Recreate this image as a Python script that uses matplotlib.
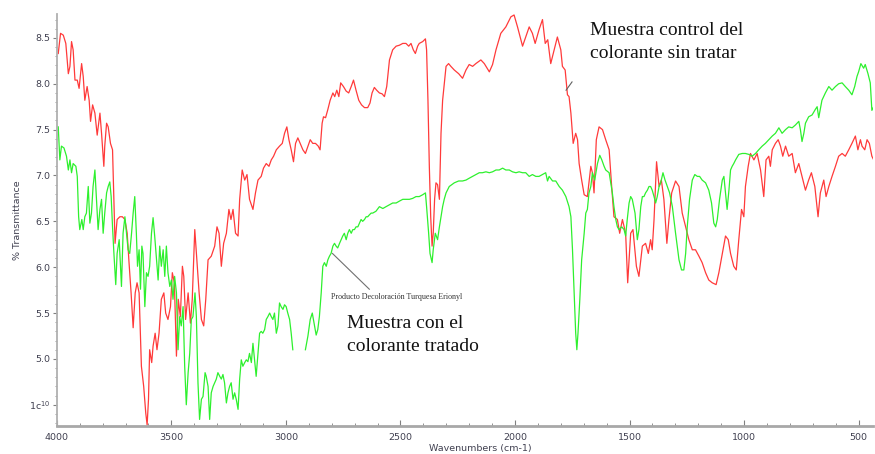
import numpy as np
import matplotlib
matplotlib.use("Agg")
import matplotlib.pyplot as plt
from matplotlib.ticker import MultipleLocator, FixedLocator, FixedFormatter

# control sample (red) : wavenumber, % transmittance
red_wn = [3994, 3984, 3972, 3961, 3950, 3943, 3936, 3929, 3921, 3911, 3903, 3892, 3885, 3878, 3868, 3859,
          3853, 3844, 3834, 3824, 3812, 3805, 3795, 3791, 3783, 3776, 3766, 3757, 3751, 3746, 3737, 3725,
          3714, 3703, 3693, 3685, 3676, 3667, 3658, 3650, 3641, 3631, 3621, 3612, 3606, 3600, 3595, 3586,
          3580, 3571, 3563, 3554, 3544, 3533, 3525, 3515, 3504, 3496, 3487, 3478, 3470, 3461, 3452, 3446,
          3438, 3427, 3417, 3409, 3398, 3391, 3379, 3369, 3359, 3350, 3340, 3326, 3311, 3301, 3292, 3282,
          3272, 3260, 3249, 3240, 3231, 3220, 3209, 3202, 3191, 3180, 3170, 3159, 3144, 3133, 3122, 3108,
          3098, 3086, 3074, 3064, 3054, 3042, 3028, 3016, 3006, 2996, 2987, 2977, 2967, 2958, 2948, 2938,
          2926, 2915, 2904, 2894, 2883, 2871, 2859, 2851, 2842, 2836, 2827, 2817, 2807, 2795, 2787, 2778,
          2769, 2761, 2749, 2737, 2726, 2715, 2705, 2694, 2682, 2670, 2657, 2643, 2633, 2624, 2614, 2604,
          2592, 2580, 2570, 2560, 2548, 2534, 2519, 2505, 2490, 2476, 2464, 2454, 2444, 2435, 2425, 2418,
          2403, 2391, 2386, 2380, 2374, 2368, 2362, 2357, 2351, 2345, 2338, 2330, 2323, 2316, 2301, 2290,
          2280, 2265, 2246, 2229, 2214, 2200, 2185, 2171, 2149, 2134, 2112, 2098, 2083, 2062, 2040, 2018,
          2004, 1989, 1967, 1953, 1938, 1924, 1912, 1895, 1880, 1868, 1857, 1844, 1829, 1815, 1800, 1793,
          1781, 1771, 1764, 1756, 1746, 1735, 1727, 1720, 1709, 1698, 1684, 1669, 1662, 1655, 1645, 1633,
          1618, 1604, 1589, 1578, 1568, 1553, 1543, 1531, 1517, 1508, 1495, 1485, 1470, 1459, 1444, 1430,
          1418, 1408, 1401, 1393, 1382, 1371, 1361, 1350, 1337, 1328, 1316, 1299, 1284, 1270, 1255, 1241,
          1226, 1212, 1197, 1183, 1168, 1154, 1139, 1122, 1110, 1095, 1081, 1069, 1059, 1045, 1034, 1023,
          1011, 1001, 994, 982, 972, 957, 943, 928, 914, 904, 892, 885, 877, 863, 851, 841,
          831, 819, 805, 790, 776, 761, 747, 732, 718, 706, 691, 677, 667, 652, 642, 630,
          616, 601, 587, 572, 558, 543, 529, 514, 503, 492, 485, 473, 463, 453, 442, 434]
red_t = [8.33, 8.55, 8.53, 8.44, 8.11, 8.19, 8.46, 8.37, 8.04, 8.04, 7.95, 8.22, 8.08, 7.82, 7.97, 7.82,
         7.59, 7.77, 7.68, 7.44, 7.68, 7.46, 7.10, 7.32, 7.57, 7.53, 7.35, 7.28, 6.74, 6.26, 6.52, 6.55,
         6.55, 6.52, 6.37, 6.05, 5.72, 5.34, 5.72, 5.83, 5.72, 4.92, 4.70, 4.41, 4.28, 4.56, 5.10, 4.96,
         5.14, 5.28, 5.10, 5.28, 5.65, 5.72, 5.50, 5.43, 5.57, 5.94, 5.83, 5.03, 5.65, 5.46, 6.01, 5.90,
         5.43, 5.72, 5.39, 5.65, 6.41, 6.15, 5.72, 5.43, 5.36, 5.65, 6.08, 6.12, 6.23, 6.44, 6.37, 6.01,
         6.26, 6.37, 6.63, 6.52, 6.63, 6.37, 6.34, 6.74, 7.06, 6.95, 7.01, 6.74, 6.63, 6.81, 6.95, 6.99,
         7.08, 7.13, 7.10, 7.17, 7.21, 7.28, 7.32, 7.35, 7.46, 7.53, 7.39, 7.28, 7.15, 7.35, 7.41, 7.35,
         7.28, 7.24, 7.32, 7.39, 7.35, 7.35, 7.32, 7.28, 7.57, 7.64, 7.63, 7.72, 7.82, 7.90, 7.86, 7.93,
         7.86, 8.01, 7.97, 7.92, 7.90, 7.97, 8.04, 7.93, 7.82, 7.77, 7.74, 7.74, 7.79, 7.90, 7.96, 7.93,
         7.90, 7.89, 7.86, 7.97, 8.26, 8.37, 8.41, 8.42, 8.44, 8.44, 8.41, 8.44, 8.37, 8.33, 8.41, 8.44,
         8.46, 8.49, 8.37, 7.82, 7.10, 6.55, 6.23, 6.37, 6.74, 6.92, 6.90, 6.74, 7.46, 7.82, 8.19, 8.22,
         8.19, 8.15, 8.11, 8.06, 8.15, 8.21, 8.19, 8.22, 8.26, 8.22, 8.13, 8.21, 8.37, 8.55, 8.62, 8.73,
         8.75, 8.62, 8.41, 8.51, 8.62, 8.55, 8.44, 8.59, 8.70, 8.44, 8.48, 8.22, 8.37, 8.51, 8.37, 8.19,
         8.15, 7.88, 7.86, 7.68, 7.35, 7.46, 7.39, 7.13, 6.95, 6.79, 6.77, 7.10, 7.03, 6.81, 7.39, 7.53,
         7.50, 7.39, 7.28, 6.88, 6.55, 6.52, 6.37, 6.52, 6.37, 5.83, 6.37, 6.41, 6.01, 5.90, 6.23, 6.26,
         6.15, 6.30, 6.19, 6.52, 7.15, 6.88, 6.95, 6.74, 6.26, 6.52, 6.81, 6.94, 6.88, 6.59, 6.44, 6.30,
         6.19, 6.19, 6.12, 6.05, 5.94, 5.86, 5.83, 5.81, 5.94, 6.15, 6.34, 6.30, 6.15, 6.01, 5.97, 6.30,
         6.63, 6.55, 6.88, 7.10, 7.24, 7.17, 7.24, 7.06, 6.77, 7.17, 7.21, 7.10, 7.28, 7.35, 7.39, 7.32,
         7.21, 7.32, 7.21, 7.24, 7.03, 7.13, 6.99, 6.84, 6.95, 7.03, 6.88, 6.55, 6.81, 6.95, 6.77, 6.88,
         6.99, 7.10, 7.21, 7.24, 7.21, 7.28, 7.35, 7.43, 7.28, 7.39, 7.32, 7.28, 7.39, 7.35, 7.21, 7.17]

# treated sample (green), nan = gap in the trace
green_wn = [3994, 3990, 3987, 3980, 3969, 3958, 3950, 3943, 3936, 3929, 3917, 3911, 3905, 3900, 3891, 3885,
            3878, 3871, 3863, 3856, 3849, 3842, 3834, 3827, 3820, 3812, 3805, 3798, 3791, 3783, 3776, 3769,
            3763, 3757, 3751, 3743, 3737, 3728, 3718, 3711, 3703, 3696, 3689, 3682, 3674, 3667, 3660, 3653,
            3648, 3641, 3635, 3629, 3624, 3616, 3609, 3602, 3595, 3587, 3580, 3573, 3565, 3558, 3551, 3544,
            3536, 3529, 3522, 3515, 3507, 3500, 3493, 3486, 3478, 3471, 3464, 3457, 3449, 3442, 3435, 3427,
            3420, 3413, 3406, 3397, 3391, 3384, 3377, 3369, 3362, 3353, 3348, 3340, 3333, 3326, 3318, 3311,
            3304, 3297, 3289, 3282, 3275, 3268, 3260, 3253, 3246, 3239, 3231, 3224, 3217, 3209, 3202, 3195,
            3188, 3180, 3173, 3166, 3159, 3151, 3144, 3137, 3130, 3122, 3115, 3108, 3101, 3093, 3086, 3079,
            3071, 3064, 3057, 3050, 3042, 3035, 3028, 3021, 3013, 3006, 2999, 2992, 2984, 2977, 2970, 2942,
            2915, 2904, 2894, 2885, 2875, 2868, 2861, 2854, 2846, 2839, 2832, 2824, 2817, 2810, 2803, 2795,
            2788, 2781, 2774, 2766, 2759, 2752, 2745, 2737, 2730, 2723, 2715, 2708, 2701, 2694, 2686, 2679,
            2672, 2665, 2657, 2650, 2643, 2636, 2628, 2621, 2607, 2592, 2577, 2563, 2548, 2534, 2519, 2505,
            2490, 2476, 2461, 2447, 2432, 2418, 2403, 2391, 2386, 2377, 2371, 2362, 2357, 2348, 2338, 2330,
            2323, 2316, 2309, 2301, 2287, 2265, 2246, 2229, 2214, 2200, 2185, 2171, 2156, 2142, 2127, 2112,
            2098, 2083, 2069, 2054, 2040, 2025, 2011, 1996, 1982, 1967, 1953, 1938, 1924, 1909, 1895, 1880,
            1866, 1858, 1851, 1836, 1822, 1807, 1793, 1778, 1764, 1756, 1749, 1742, 1735, 1730, 1725, 1717,
            1709, 1698, 1691, 1684, 1677, 1669, 1662, 1652, 1640, 1630, 1621, 1611, 1604, 1589, 1582, 1575,
            1568, 1560, 1553, 1546, 1534, 1524, 1517, 1510, 1502, 1495, 1488, 1476, 1466, 1459, 1451, 1444,
            1437, 1430, 1422, 1415, 1408, 1401, 1393, 1386, 1379, 1371, 1364, 1354, 1345, 1335, 1325, 1313,
            1299, 1284, 1273, 1263, 1255, 1248, 1238, 1226, 1215, 1204, 1194, 1183, 1168, 1154, 1142, 1132,
            1124, 1117, 1107, 1095, 1088, 1081, 1074, 1066, 1059, 1052, 1045, 1037, 1023, 1008, 994, 979,
            965, 950, 936, 921, 907, 892, 877, 863, 848, 834, 819, 805, 790, 776, 761, 754,
            747, 739, 732, 718, 703, 689, 681, 674, 660, 645, 630, 616, 601, 587, 572, 558,
            543, 529, 517, 507, 500, 490, 478, 471, 459, 449, 442, 434]
green_t = [7.53, 7.32, 7.17, 7.32, 7.30, 7.21, 7.06, 7.17, 7.03, 7.13, 7.10, 6.99, 6.55, 6.41, 6.52, 6.41,
           6.55, 6.59, 6.88, 6.48, 6.59, 6.88, 7.06, 6.74, 6.41, 6.63, 6.74, 6.37, 6.59, 6.81, 6.88, 6.93,
           6.77, 6.44, 6.15, 5.81, 6.15, 6.30, 5.79, 6.37, 6.55, 6.37, 6.19, 6.15, 6.37, 6.59, 6.77, 6.37,
           6.01, 6.19, 5.76, 6.23, 6.15, 5.57, 5.94, 5.90, 6.01, 6.37, 6.54, 6.34, 6.08, 5.86, 6.23, 6.01,
           6.19, 5.90, 6.23, 5.94, 5.79, 5.86, 5.65, 5.90, 5.72, 5.10, 5.46, 5.36, 5.57, 4.92, 4.50, 4.85,
           5.06, 5.43, 5.46, 5.72, 5.46, 4.74, 4.34, 4.56, 4.59, 4.85, 4.81, 4.70, 4.34, 4.63, 4.70, 4.74,
           4.78, 4.85, 4.81, 4.78, 4.83, 4.74, 4.52, 4.63, 4.70, 4.74, 4.56, 4.63, 4.56, 4.45, 4.78, 4.99,
           4.92, 4.96, 4.99, 4.97, 5.06, 4.96, 5.17, 4.99, 4.81, 5.06, 5.28, 5.30, 5.28, 5.32, 5.43, 5.46,
           5.50, 5.46, 5.43, 5.50, 5.28, 5.36, 5.61, 5.57, 5.54, 5.59, 5.57, 5.50, 5.43, 5.28, 5.10, np.nan,
           5.10, 5.25, 5.43, 5.50, 5.36, 5.26, 5.32, 5.46, 5.72, 6.01, 6.05, 6.01, 6.08, 6.12, 6.15, 6.23,
           6.26, 6.23, 6.21, 6.26, 6.30, 6.34, 6.37, 6.30, 6.37, 6.41, 6.37, 6.41, 6.41, 6.44, 6.44, 6.48,
           6.52, 6.50, 6.52, 6.55, 6.55, 6.57, 6.59, 6.59, 6.61, 6.66, 6.64, 6.66, 6.68, 6.70, 6.70, 6.72,
           6.74, 6.74, 6.74, 6.75, 6.77, 6.77, 6.79, 6.81, 6.66, 6.37, 6.15, 6.05, 6.19, 6.37, 6.30, 6.44,
           6.55, 6.66, 6.74, 6.81, 6.88, 6.92, 6.94, 6.94, 6.95, 6.97, 6.99, 7.01, 7.03, 7.03, 7.04, 7.03,
           7.04, 7.06, 7.06, 7.08, 7.06, 7.06, 7.04, 7.03, 7.04, 7.03, 7.03, 6.99, 7.01, 6.99, 6.99, 7.01,
           7.03, 6.94, 6.99, 6.94, 6.94, 6.88, 6.84, 6.77, 6.66, 6.55, 6.19, 5.75, 5.28, 5.10, 5.28, 5.65,
           6.08, 6.37, 6.59, 6.63, 6.81, 6.88, 7.03, 6.95, 7.13, 7.22, 7.17, 7.10, 7.06, 7.03, 6.92, 6.81,
           6.66, 6.52, 6.44, 6.41, 6.44, 6.41, 6.34, 6.52, 6.70, 6.77, 6.74, 6.59, 6.30, 6.41, 6.66, 6.77,
           6.77, 6.81, 6.84, 6.88, 6.88, 6.84, 6.77, 6.70, 6.77, 6.88, 6.92, 7.03, 6.95, 6.88, 6.81, 6.66,
           6.37, 6.08, 5.97, 5.97, 6.15, 6.44, 6.74, 6.95, 7.01, 6.99, 6.99, 6.95, 6.92, 6.84, 6.70, 6.48,
           6.44, 6.52, 6.74, 6.95, 6.99, 6.81, 6.63, 6.84, 7.06, 7.10, 7.13, 7.17, 7.23, 7.24, 7.24, 7.23,
           7.21, 7.24, 7.28, 7.32, 7.35, 7.39, 7.43, 7.46, 7.52, 7.46, 7.50, 7.53, 7.52, 7.55, 7.59, 7.50,
           7.37, 7.46, 7.57, 7.64, 7.66, 7.72, 7.75, 7.63, 7.82, 7.90, 7.97, 7.93, 7.97, 8.00, 8.01, 7.97,
           7.93, 7.88, 7.97, 8.08, 8.13, 8.22, 8.17, 8.21, 8.11, 8.01, 7.71, 7.75]

y_ticks = [4.5, 5.0, 5.5, 6.0, 6.5, 7.0, 7.5, 8.0, 8.5]
y_labels = ["1c$^{10}$", "5.0", "5.5", "6.0", "6.5", "7.0", "7.5", "8.0", "8.5"]
x_ticks = [4000, 3500, 3000, 2500, 2000, 1500, 1000, 500]

fig = plt.figure(figsize=(8.75, 4.54), dpi=100)
ax = fig.add_axes([0.065, 0.062, 0.933, 0.907])

ax.plot(red_wn, red_t, color="#ff3a3a", lw=0.9)
ax.plot(green_wn, green_t, color="#2ef02e", lw=0.9)

ax.set_xlim(4000, 436)
ax.set_ylim(4.27, 8.76)

# leader lines
ax.plot([2797, 2636], [6.15, 5.76], color="#707070", lw=0.8)
ax.plot([1777, 1751], [7.93, 8.02], color="#606060", lw=0.8)

ax.xaxis.set_major_locator(FixedLocator(x_ticks))
ax.xaxis.set_minor_locator(MultipleLocator(100))
ax.yaxis.set_major_locator(FixedLocator(y_ticks))
ax.yaxis.set_major_formatter(FixedFormatter(y_labels))
ax.yaxis.set_minor_locator(MultipleLocator(0.1))

tick_col = "#404050"
ax.tick_params(axis="x", which="major", direction="in", length=4, color="#808080",
               labelsize=6.8, labelcolor=tick_col, pad=5)
ax.tick_params(axis="x", which="minor", direction="in", length=2.5, color="#808080")
ax.tick_params(axis="y", which="major", direction="out", length=3, color="#808080",
               labelsize=6.8, labelcolor=tick_col, pad=2)
ax.tick_params(axis="y", which="minor", direction="out", length=1.5, color="#909090")

for s in ["top", "right"]:
    ax.spines[s].set_visible(False)
ax.spines["left"].set_color("#b0b0b0")
ax.spines["left"].set_linewidth(1.3)
ax.spines["bottom"].set_color("#a8a8a8")
ax.spines["bottom"].set_linewidth(2)

fig.text(18 / 875, 1 - 220 / 454, "% Transmittance", rotation=90, fontsize=6.8,
         color=tick_col, ha="center", va="center")
fig.text(480 / 875, 1 - 448 / 454, "Wavenumbers (cm-1)", fontsize=6.8,
         color=tick_col, ha="center", va="center")

serif = "Liberation Serif"
fig.text(590 / 875, 1 - 22 / 454, "Muestra control del\ncolorante sin tratar", family=serif,
         fontsize=14, va="top", ha="left", linespacing=1.45, color="#111111")
fig.text(347 / 875, 1 - 315 / 454, "Muestra con el\ncolorante tratado", family=serif,
         fontsize=14, va="top", ha="left", linespacing=1.45, color="#111111")
fig.text(331 / 875, 1 - 297 / 454, "Producto Decoloración Turquesa Erionyl", family=serif,
         fontsize=5.8, va="center", ha="left", color="#333333")

fig.savefig("out.png", dpi=100)
